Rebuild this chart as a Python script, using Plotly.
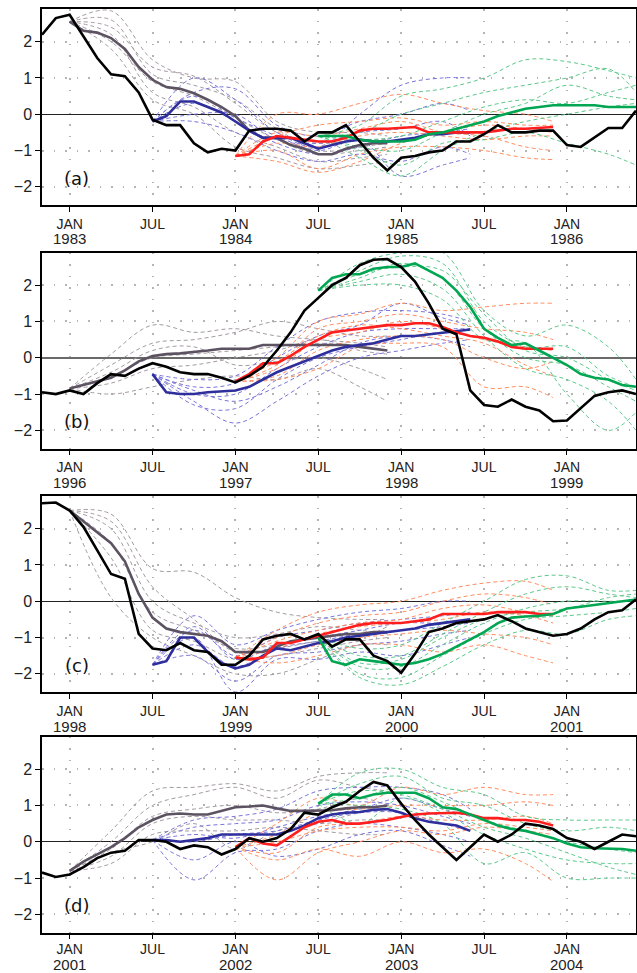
import plotly.graph_objects as go

# ---------------- data ----------------
MONTHS = list(range(-2, 42))          # months relative to January of each panel's first labelled year
TICK_MONTHS = [0, 6, 12, 18, 24, 30, 36]
TICK_NAMES = ["JAN", "JUL", "JAN", "JUL", "JAN", "JUL", "JAN"]
PANEL_YEARS = [1983, 1996, 1998, 2001]
PANEL_LABELS = ["(a)", "(b)", "(c)", "(d)"]
START = {"gray": 0, "blue": 6, "red": 12, "green": 18}   # forecast start month
KNOTS = [0, 3, 6, 9, 12, 15, 18, 21, 23]                 # member sample offsets from start

OBS_A = [2.19, 2.65, 2.74, 2.15, 1.55, 1.1, 1.05, 0.6, -0.15, -0.3, -0.3, -0.8, -1.05, -0.95, -1.0,
         -0.45, -0.4, -0.4, -0.45, -0.75, -0.5, -0.5, -0.3, -0.75, -1.2, -1.55, -1.2, -1.15, -1.05,
         -1.0, -0.75, -0.75, -0.55, -0.3, -0.5, -0.5, -0.45, -0.45, -0.85, -0.9, -0.65, -0.38, -0.38, 0.1]
OBS_B = [-0.95, -1.0, -0.9, -1.0, -0.7, -0.45, -0.5, -0.3, -0.15, -0.25, -0.4, -0.45, -0.45, -0.55,
         -0.68, -0.5, -0.25, 0.2, 0.7, 1.3, 1.65, 2.0, 2.2, 2.55, 2.7, 2.72, 2.5, 2.1, 1.5, 0.8, 0.65,
         -0.9, -1.3, -1.35, -1.15, -1.35, -1.45, -1.75, -1.73, -1.4, -1.05, -0.95, -0.9, -1.0]
OBS_C = [2.7, 2.72, 2.5, 2.05, 1.4, 0.75, 0.62, -0.9, -1.3, -1.35, -1.15, -1.35, -1.4, -1.75, -1.75,
         -1.5, -1.05, -0.95, -0.9, -1.05, -0.9, -1.25, -1.05, -1.05, -1.5, -1.65, -1.97, -1.45, -0.85,
         -0.75, -0.6, -0.55, -0.5, -0.38, -0.55, -0.75, -0.85, -0.95, -0.9, -0.75, -0.5, -0.3, -0.25, 0.05]
OBS_D = [-0.85, -0.97, -0.9, -0.7, -0.45, -0.3, -0.25, 0.05, 0.05, 0.0, -0.2, -0.1, -0.15, -0.35,
         -0.2, 0.1, 0.0, 0.1, 0.35, 0.8, 0.75, 0.95, 1.1, 1.4, 1.65, 1.55, 1.05, 0.6, 0.2, -0.15, -0.5,
         -0.15, 0.2, 0.0, 0.2, 0.5, 0.45, 0.35, 0.1, 0.0, -0.2, 0.0, 0.2, 0.15]

GRAY_A = [2.55, 2.3, 2.25, 2.1, 1.8, 1.3, 0.95, 0.75, 0.7, 0.58, 0.4, 0.2, -0.05, -0.45, -0.65, -0.65,
          -0.85, -0.95, -1.1, -1.1, -0.95, -0.85, -0.8, -0.8]
BLUE_A = [-0.2, -0.05, 0.35, 0.35, 0.2, 0.05, -0.2, -0.45, -0.65, -0.65, -0.65, -0.8, -0.95, -0.85,
          -0.75, -0.7, -0.75, -0.75, -0.7, -0.65, -0.55, -0.55, -0.5, -0.5]
RED_A = [-1.15, -1.1, -0.75, -0.6, -0.65, -0.7, -0.75, -0.75, -0.65, -0.45, -0.4, -0.4, -0.38, -0.35,
         -0.5, -0.5, -0.5, -0.5, -0.5, -0.45, -0.4, -0.4, -0.38, -0.35]
GREEN_A = [-0.6, -0.6, -0.6, -0.7, -0.75, -0.75, -0.75, -0.7, -0.55, -0.5, -0.4, -0.3, -0.2, -0.05,
           0.05, 0.15, 0.2, 0.25, 0.25, 0.25, 0.25, 0.2, 0.2, 0.2]

GRAY_B = [-0.85, -0.75, -0.65, -0.55, -0.35, -0.1, 0.05, 0.1, 0.12, 0.15, 0.2, 0.25, 0.25, 0.25, 0.35,
          0.35, 0.35, 0.35, 0.35, 0.35, 0.35, 0.3, 0.25, 0.2]
BLUE_B = [-0.45, -0.95, -1.0, -1.0, -0.95, -0.92, -0.9, -0.8, -0.6, -0.4, -0.25, -0.1, 0.05, 0.2, 0.3,
          0.35, 0.4, 0.5, 0.6, 0.6, 0.65, 0.7, 0.75, 0.78]
RED_B = [-0.65, -0.45, -0.15, -0.15, 0.05, 0.3, 0.5, 0.7, 0.75, 0.8, 0.85, 0.9, 0.9, 0.95, 0.95, 0.85,
         0.7, 0.6, 0.55, 0.45, 0.3, 0.25, 0.25, 0.25]
GREEN_B = [1.85, 2.2, 2.3, 2.3, 2.45, 2.5, 2.5, 2.6, 2.4, 2.2, 1.85, 1.4, 0.8, 0.55, 0.35, 0.4, 0.2,
           0.0, -0.2, -0.45, -0.55, -0.6, -0.75, -0.8]

GRAY_C = [2.5, 2.2, 1.9, 1.6, 1.1, 0.2, -0.45, -0.75, -0.85, -0.9, -0.95, -1.1, -1.4, -1.4, -1.4,
          -1.25, -1.1, -1.05, -1.0, -0.95, -0.9, -0.9, -0.85, -0.85]
BLUE_C = [-1.75, -1.65, -1.0, -1.0, -1.4, -1.7, -1.85, -1.75, -1.5, -1.3, -1.35, -1.25, -1.15, -1.1,
          -1.0, -0.95, -0.9, -0.85, -0.8, -0.75, -0.65, -0.6, -0.55, -0.5]
RED_C = [-1.55, -1.6, -1.55, -1.15, -1.15, -1.05, -0.95, -0.85, -0.75, -0.65, -0.6, -0.6, -0.6, -0.55,
         -0.5, -0.35, -0.35, -0.35, -0.35, -0.3, -0.3, -0.3, -0.35, -0.35]
GREEN_C = [-1.0, -1.65, -1.75, -1.6, -1.65, -1.7, -1.75, -1.7, -1.6, -1.45, -1.25, -1.05, -0.85, -0.6,
           -0.45, -0.42, -0.4, -0.35, -0.2, -0.15, -0.1, -0.05, 0.0, 0.05]

GRAY_D = [-0.8, -0.55, -0.35, -0.15, 0.1, 0.4, 0.6, 0.75, 0.78, 0.75, 0.75, 0.85, 0.95, 0.97, 1.0,
          0.92, 0.85, 0.85, 0.87, 0.87, 0.92, 0.95, 0.95, 1.0]
BLUE_D = [0.05, 0.05, 0.0, 0.05, 0.1, 0.2, 0.2, 0.22, 0.2, 0.2, 0.3, 0.45, 0.65, 0.75, 0.8, 0.82, 0.88,
          0.9, 0.8, 0.65, 0.55, 0.5, 0.45, 0.3]
RED_D = [-0.15, 0.1, -0.05, -0.1, 0.15, 0.4, 0.55, 0.6, 0.5, 0.5, 0.55, 0.6, 0.68, 0.75, 0.78, 0.78,
         0.8, 0.75, 0.65, 0.65, 0.6, 0.6, 0.55, 0.45]
GREEN_D = [1.05, 1.3, 1.3, 1.2, 1.3, 1.35, 1.35, 1.35, 1.2, 0.95, 0.9, 0.75, 0.6, 0.45, 0.35, 0.3, 0.2,
           0.1, -0.05, -0.15, -0.18, -0.2, -0.2, -0.25]

# ensemble members (values at KNOTS offsets)
MEM_GRAY_A = [[2.55, 2.85, 1.5, 1.0, 0.9, -0.2, -0.5, -0.5, -0.6],
              [2.55, 2.4, 1.3, 1.05, 0.3, -0.5, -0.8, -0.7, -0.7],
              [2.55, 2.0, 0.9, 0.5, -0.1, -0.7, -1.1, -1.0, -0.9],
              [2.55, 2.2, 0.6, 0.2, -0.5, -0.9, -1.3, -1.2, -1.1],
              [2.55, 1.8, 0.4, 0.0, -0.9, -1.2, -1.5, -1.4, -1.3],
              [2.55, 2.6, 1.1, 0.8, 0.4, -0.4, -1.0, -0.9, -0.8]]
MEM_BLUE_A = [[-0.2, 1.0, 0.4, -0.5, -0.9, 0.0, 0.8, 1.0, 1.0],
              [-0.2, 0.6, 0.7, -0.3, -0.6, -0.2, 0.0, 0.3, 0.1],
              [-0.2, 0.3, -0.2, -0.8, -1.1, -0.9, -0.6, -0.5, -0.4],
              [-0.2, -0.2, -0.5, -1.0, -1.3, -1.1, -1.3, -0.9, -1.1],
              [-0.2, 0.5, -0.1, -0.6, -1.0, -0.7, -1.7, -1.4, -1.2],
              [-0.2, 0.0, 0.0, -0.7, -0.8, -0.5, -0.4, -0.2, -0.6]]
MEM_RED_A = [[-1.15, 0.0, 0.0, 0.3, 0.55, 0.3, 0.1, 0.0, -0.2],
             [-1.15, -0.6, -0.3, -0.2, -0.1, -0.3, -0.2, -0.3, -0.3],
             [-1.15, -0.8, -0.9, -0.6, -0.5, -0.6, -0.7, -0.6, -0.6],
             [-1.15, -1.0, -1.5, -1.1, -0.9, -0.9, -1.0, -1.2, -1.25],
             [-1.15, -1.3, -1.6, -1.3, -0.8, -0.5, -0.3, -0.4, -0.5],
             [-1.15, -0.5, -0.6, -0.4, -0.2, -0.5, -0.6, -0.9, -1.0]]
MEM_GREEN_A = [[-0.6, -0.3, 0.5, 0.7, 1.0, 1.5, 1.45, 1.2, 1.0],
               [-0.6, -0.5, 0.0, 0.3, 0.6, 0.8, 1.0, 1.25, 0.6],
               [-0.6, -0.9, -1.0, -0.5, 0.0, 0.3, 0.8, 0.5, 0.4],
               [-0.6, -1.2, -1.7, -1.0, -0.5, -0.2, 0.0, 0.2, 0.3],
               [-0.6, -1.0, -1.4, -0.8, -0.7, -0.5, -0.8, -1.1, -1.4],
               [-0.6, -0.7, -0.6, -0.2, 0.2, 0.4, 0.3, 0.6, 0.8]]

MEM_GRAY_B = [[-0.85, 0.1, 0.9, 0.7, 0.8, 0.6, 0.5, 0.4, 0.3],
              [-0.85, -0.2, 0.4, 0.5, 0.7, 1.0, 0.8, 0.6, 0.6],
              [-0.85, -0.5, 0.0, 0.1, 0.2, 0.3, 0.4, 0.3, 0.2],
              [-0.85, -0.7, -0.3, -0.2, 0.0, 0.2, 0.5, 0.2, 0.1],
              [-0.85, -1.0, -0.8, -0.6, -0.5, -0.6, -0.3, -0.8, -1.2],
              [-0.85, -0.4, 0.2, 0.3, -0.2, -0.1, 0.0, -0.3, -0.6]]
MEM_BLUE_B = [[-0.45, -0.6, -0.5, 0.3, 1.0, 1.25, 1.3, 1.2, 1.0],
              [-0.45, -0.8, -0.7, 0.0, 0.6, 0.9, 1.5, 1.1, 0.9],
              [-0.45, -1.0, -1.0, -0.3, 0.3, 0.7, 0.8, 0.8, 0.8],
              [-0.45, -1.3, -1.4, -0.6, 0.0, 0.3, 0.5, 0.7, 0.6],
              [-0.45, -1.2, -1.8, -1.2, -0.5, 0.0, 0.2, 0.4, 0.5],
              [-0.45, -0.9, -1.2, -0.8, -0.2, 0.4, 0.6, 0.5, 0.3]]
MEM_RED_B = [[-0.65, 0.0, 1.0, 1.2, 1.5, 1.3, 1.4, 1.5, 1.5],
             [-0.65, -0.2, 0.8, 1.0, 1.2, 1.0, 0.8, 0.7, 0.5],
             [-0.65, -0.3, 0.5, 0.7, 1.0, 0.8, 0.5, 0.3, 0.2],
             [-0.65, -0.5, 0.2, 0.5, 0.6, 0.5, 0.0, -0.3, -0.1],
             [-0.65, -0.6, -0.3, 0.3, 0.4, 0.3, -0.8, -0.8, -1.1],
             [-0.65, -0.1, 0.6, 0.9, 0.8, 0.6, 0.4, -0.2, -0.5]]
MEM_GREEN_B = [[1.85, 2.6, 2.9, 2.9, 1.3, 0.6, 0.9, 0.3, -0.6],
               [1.85, 2.4, 2.8, 2.6, 1.0, 0.3, 0.3, -0.5, -0.8],
               [1.85, 2.2, 2.6, 2.2, 0.8, 0.0, -0.2, -0.8, -1.2],
               [1.85, 2.1, 2.3, 1.9, 0.6, -0.3, -0.6, -1.2, -2.0],
               [1.85, 2.0, 2.0, 1.6, 0.5, 0.4, -1.0, -2.0, -1.5],
               [1.85, 2.3, 2.5, 2.4, 1.2, 0.2, 0.0, -0.6, -0.9]]

MEM_GRAY_C = [[2.5, 2.4, 0.9, 0.8, 0.1, -0.3, -0.45, -0.5, -0.5],
              [2.5, 2.0, 0.0, -0.6, -1.0, -0.9, -0.7, -0.8, -0.9],
              [2.5, 1.6, -0.3, -0.8, -1.3, -1.2, -1.0, -0.9, -0.8],
              [2.5, 1.2, -0.8, -1.1, -1.6, -1.5, -1.3, -1.1, -1.0],
              [2.5, 0.1, -1.0, -1.5, -2.0, -2.0, -1.6, -1.2, -1.2],
              [2.5, 2.2, 0.4, -0.5, -1.4, -1.3, -1.1, -1.0, -0.7]]
MEM_BLUE_C = [[-1.75, -0.4, -1.2, -0.8, -0.5, -0.3, -0.2, 0.0, 0.0],
              [-1.75, -0.8, -1.5, -1.0, -0.8, -0.6, -0.5, -0.4, -0.3],
              [-1.75, -1.2, -1.8, -1.3, -1.1, -0.9, -0.8, -0.7, -0.6],
              [-1.75, -1.5, -2.2, -1.5, -1.4, -1.2, -1.1, -0.9, -0.8],
              [-1.75, -1.0, -2.5, -1.6, -1.6, -1.4, -1.5, -1.2, -1.0],
              [-1.75, -0.7, -1.6, -1.2, -1.0, -0.8, -0.6, -0.6, -0.5]]
MEM_RED_C = [[-1.55, -0.8, -0.3, -0.1, 0.0, 0.3, 0.5, 0.55, 0.3],
             [-1.55, -1.0, -0.6, -0.4, -0.3, 0.0, 0.2, 0.1, -0.1],
             [-1.55, -1.3, -0.9, -0.7, -0.6, -0.5, -0.3, -0.4, -0.6],
             [-1.55, -1.5, -1.2, -1.0, -0.9, -0.8, -0.9, -1.0, -1.2],
             [-1.55, -1.7, -1.5, -1.2, -1.2, -1.4, -1.2, -1.5, -1.7],
             [-1.55, -1.1, -0.8, -0.6, -0.5, -0.2, -0.1, -0.3, -0.4]]
MEM_GREEN_C = [[-1.0, -1.3, -1.2, -0.6, 0.0, 0.6, 0.7, 0.3, 0.3],
               [-1.0, -1.5, -1.5, -0.9, -0.3, 0.2, 0.4, 0.2, 0.1],
               [-1.0, -1.8, -1.8, -1.2, -0.6, -0.2, 0.0, 0.0, 0.0],
               [-1.0, -2.0, -2.1, -1.5, -0.9, -0.5, -0.4, -0.3, -0.2],
               [-1.0, -2.1, -2.3, -1.8, -1.2, -0.8, -0.9, -0.5, -0.4],
               [-1.0, -1.7, -1.6, -1.0, -0.5, -0.3, -0.2, 0.1, 0.2]]

MEM_GRAY_D = [[-0.8, 0.3, 1.4, 1.5, 1.6, 1.4, 1.8, 1.9, 1.9],
              [-0.8, 0.0, 1.0, 1.3, 1.5, 1.2, 1.7, 1.5, 1.4],
              [-0.8, -0.2, 0.7, 0.9, 1.0, 0.8, 0.9, 1.2, 1.0],
              [-0.8, -0.4, 0.5, 0.7, 0.6, 0.6, 0.5, 0.6, 0.6],
              [-0.8, -0.6, 0.2, 0.3, 0.3, 0.4, 0.3, 0.2, 0.2],
              [-0.8, -0.3, 0.0, 0.5, -0.2, 0.3, 0.5, 0.8, 0.9]]
MEM_BLUE_D = [[0.05, 0.6, 0.7, 0.9, 1.4, 1.5, 1.5, 1.3, 0.9],
              [0.05, 0.4, 0.5, 0.6, 1.0, 1.1, 1.0, 0.7, 0.5],
              [0.05, 0.0, 0.2, 0.3, 0.6, 0.8, 0.8, 0.5, 0.3],
              [0.05, -1.05, -0.3, -0.2, 0.3, 0.5, 0.4, 0.2, 0.0],
              [0.05, -0.5, 0.0, -0.4, -0.2, 0.2, 0.3, -0.1, -0.4],
              [0.05, 0.2, 0.1, 0.4, 0.7, 0.9, 1.2, 0.9, 0.7]]
MEM_RED_D = [[-0.15, 0.5, 1.2, 1.0, 1.5, 1.3, 1.5, 1.3, 1.3],
             [-0.15, 0.2, 0.8, 0.9, 1.0, 1.0, 1.0, 1.1, 1.0],
             [-0.15, -0.3, 0.4, 0.5, 0.7, 0.6, 0.6, 0.7, 0.5],
             [-0.15, -1.05, -0.3, 0.0, 0.3, 0.2, 0.4, 0.3, 0.2],
             [-0.15, -0.5, -0.2, -0.4, 0.0, -0.3, -0.2, -0.6, -1.1],
             [-0.15, 0.0, 0.3, 0.4, 0.4, 0.3, 0.5, 0.4, 0.3]]
MEM_GREEN_D = [[1.05, 1.9, 2.0, 1.5, 1.3, 0.7, 0.6, 0.6, 0.6],
               [1.05, 1.6, 1.8, 1.2, 1.0, 0.5, 0.3, 0.4, 0.3],
               [1.05, 1.2, 1.5, 1.1, 0.6, 0.3, 0.0, -0.2, -0.3],
               [1.05, 0.5, 1.2, 0.8, 0.2, -0.2, -0.5, -0.6, -0.6],
               [1.05, 1.0, 0.9, 0.5, -0.6, -0.3, -1.0, -1.0, -1.0],
               [1.05, 1.4, 1.3, 0.9, 0.4, 0.1, -0.3, -0.7, -0.9]]

PANELS = [
    dict(obs=OBS_A, means=dict(gray=GRAY_A, blue=BLUE_A, red=RED_A, green=GREEN_A),
         members=dict(gray=MEM_GRAY_A, blue=MEM_BLUE_A, red=MEM_RED_A, green=MEM_GREEN_A)),
    dict(obs=OBS_B, means=dict(gray=GRAY_B, blue=BLUE_B, red=RED_B, green=GREEN_B),
         members=dict(gray=MEM_GRAY_B, blue=MEM_BLUE_B, red=MEM_RED_B, green=MEM_GREEN_B)),
    dict(obs=OBS_C, means=dict(gray=GRAY_C, blue=BLUE_C, red=RED_C, green=GREEN_C),
         members=dict(gray=MEM_GRAY_C, blue=MEM_BLUE_C, red=MEM_RED_C, green=MEM_GREEN_C)),
    dict(obs=OBS_D, means=dict(gray=GRAY_D, blue=BLUE_D, red=RED_D, green=GREEN_D),
         members=dict(gray=MEM_GRAY_D, blue=MEM_BLUE_D, red=MEM_RED_D, green=MEM_GREEN_D)),
]

# ---------------- styles ----------------
MEAN_COL = dict(gray="#5c5262", blue="#2e2e9c", red="#ff1e1e", green="#00a651")
MEM_COL = dict(gray="#a39aa2", blue="#7a74da", red="#ff8c5e", green="#5cc88a")
W, H = 637, 973
TOPS = [9, 252.5, 496, 736.5]
PH = 196
YEAR_DROP = [34, 34, 34, 31.5]
LABEL_STANDOFF = [0, 0, 0, -2]
FONT = "Liberation Sans, Arial, sans-serif"
GRID_COL = "#b4b4b4"

fig = go.Figure()

for i, p in enumerate(PANELS):
    n = i + 1
    xa = "x" if n == 1 else f"x{n}"
    ya = "y" if n == 1 else f"y{n}"
    for key in ["gray", "blue", "red", "green"]:
        s = START[key]
        for mem in p["members"][key]:
            fig.add_trace(go.Scatter(x=[s + k for k in KNOTS], y=mem, mode="lines",
                                     line=dict(color=MEM_COL[key], width=1.0, dash="4px,3px",
                                               shape="spline", smoothing=1.0),
                                     xaxis=xa, yaxis=ya, showlegend=False, hoverinfo="skip"))
    for key in ["gray", "blue", "red", "green"]:
        s = START[key]
        vals = p["means"][key]
        fig.add_trace(go.Scatter(x=list(range(s, s + len(vals))), y=vals, mode="lines",
                                 line=dict(color=MEAN_COL[key], width=2.6),
                                 xaxis=xa, yaxis=ya, showlegend=False))
    fig.add_trace(go.Scatter(x=MONTHS, y=p["obs"], mode="lines",
                             line=dict(color="#000000", width=2.6),
                             xaxis=xa, yaxis=ya, showlegend=False))

    top, bot = TOPS[i], TOPS[i] + PH
    yr = PANEL_YEARS[i]
    xkey = "xaxis" if n == 1 else f"xaxis{n}"
    ykey = "yaxis" if n == 1 else f"yaxis{n}"
    fig.update_layout({
        xkey: dict(domain=[0, 1], anchor=ya, range=[-2, 41], tickvals=TICK_MONTHS, ticktext=TICK_NAMES,
                   ticks="outside", ticklen=5, tickcolor="#000", showline=True, linecolor="#000",
                   linewidth=1.5, mirror=True, showgrid=True, gridcolor=GRID_COL,
                   griddash="1.5px,10px", gridwidth=1.5, zeroline=False,
                   ticklabelstandoff=LABEL_STANDOFF[i],
                   tickfont=dict(family=FONT, size=14, color="#222")),
        ykey: dict(domain=[1 - bot / H, 1 - top / H], anchor=xa, range=[-2.5, 2.9],
                   tickvals=[-2, -1, 0, 1, 2], ticktext=["\u22122", "\u22121", "0", "1", "2"],
                   ticks="outside", ticklen=5, tickcolor="#000", showline=True, linecolor="#000",
                   linewidth=1.5, mirror=True, showgrid=True, gridcolor=GRID_COL,
                   griddash="1.5px,10px", gridwidth=1.5,
                   zeroline=True, zerolinecolor="#6a6a6a" if n == 2 else "#222",
                   zerolinewidth=2 if n == 2 else 1.1,
                   tickfont=dict(family=FONT, size=16, color="#222")),
    })
    # year line under each JAN tick label
    for j, tm in enumerate(TICK_MONTHS):
        if TICK_NAMES[j] == "JAN":
            fig.add_annotation(x=tm, y=1 - (bot + YEAR_DROP[i]) / H, xref=xa, yref="paper",
                               text=str(yr + tm // 12), showarrow=False, xanchor="center",
                               yanchor="middle", borderpad=0,
                               font=dict(family=FONT, size=15, color="#222"))
    fig.add_annotation(x=0.5, y=-1.76, xref=xa, yref=ya, text=PANEL_LABELS[i], showarrow=False,
                       font=dict(family="DejaVu Sans, sans-serif", size=18, color="#111"))

fig.update_layout(width=W, height=H, margin=dict(l=42, r=1, t=0, b=0),
                  plot_bgcolor="white", paper_bgcolor="white", showlegend=False)

fig.write_html("out.html", config={"displayModeBar": False},
               post_script="document.body.style.margin='0px';"
                           "document.documentElement.style.margin='0px';"
                           "document.body.style.overflow='hidden';")
